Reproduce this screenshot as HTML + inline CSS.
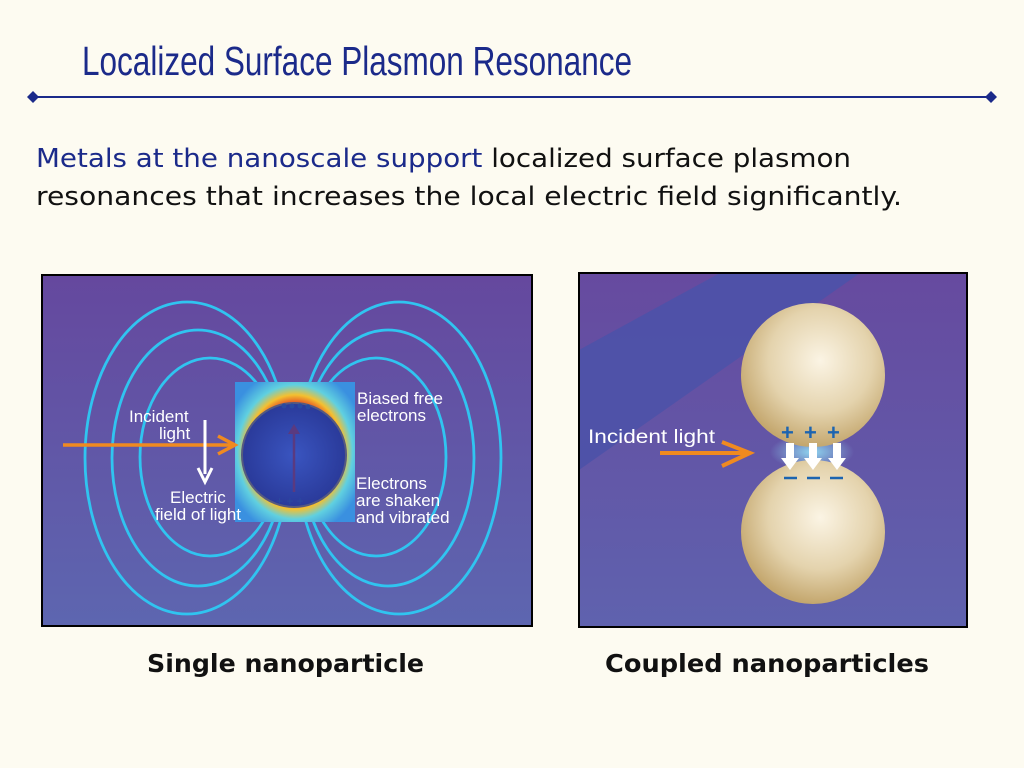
<!DOCTYPE html>
<html><head><meta charset="utf-8"><style>
html,body{margin:0;padding:0;background:#fdfbf1;}
svg{display:block}
</style></head><body>
<svg width="1024" height="768" viewBox="0 0 1024 768" xmlns="http://www.w3.org/2000/svg">
<defs>
<linearGradient id="bg1" x1="0" y1="0" x2="0" y2="1"><stop offset="0" stop-color="#65489e"/><stop offset="1" stop-color="#5d66b0"/></linearGradient>
<linearGradient id="bg2" x1="0" y1="0" x2="0" y2="1"><stop offset="0" stop-color="#664a9f"/><stop offset="1" stop-color="#5f62ae"/></linearGradient>
<radialGradient id="heat" cx="0.5" cy="0.5" r="0.6">
<stop offset="0.55" stop-color="#e03020"/><stop offset="0.68" stop-color="#f4c030"/><stop offset="0.8" stop-color="#60d0e0"/><stop offset="1" stop-color="#3a90e0"/></radialGradient>
<radialGradient id="ball" cx="0.55" cy="0.4" r="0.6"><stop offset="0" stop-color="#fbf4e4"/><stop offset="0.6" stop-color="#e4d3ad"/><stop offset="1" stop-color="#c4a76e"/></radialGradient>
<radialGradient id="blue" cx="0.5" cy="0.5" r="0.5"><stop offset="0" stop-color="#3a55c0"/><stop offset="1" stop-color="#2a3a9a"/></radialGradient>
<radialGradient id="glow" cx="0.5" cy="0.5" r="0.5"><stop offset="0" stop-color="#8fd6f0"/><stop offset="1" stop-color="#8fd6f0" stop-opacity="0"/></radialGradient>
<clipPath id="c2"><rect x="579" y="273" width="388" height="354"/></clipPath>
</defs>

<text x="82" y="75" font-family="Liberation Sans Narrow, Liberation Sans, sans-serif" font-size="41" fill="#1b2a8a" textLength="550" lengthAdjust="spacingAndGlyphs">Localized  Surface  Plasmon  Resonance</text>
<line x1="33" y1="97" x2="991" y2="97" stroke="#1b2a8a" stroke-width="2"/>
<path d="M33 91 L39 97 L33 103 L27 97Z" fill="#1b2a8a"/>
<path d="M991 91 L997 97 L991 103 L985 97Z" fill="#1b2a8a"/>

<text x="36" y="167" font-family="DejaVu Sans, sans-serif" font-size="26" textLength="815" lengthAdjust="spacingAndGlyphs"><tspan fill="#1b2a8a">Metals at the nanoscale support</tspan><tspan fill="#111"> localized surface plasmon</tspan></text>
<text x="36" y="205" font-family="DejaVu Sans, sans-serif" font-size="26" fill="#111" textLength="866" lengthAdjust="spacingAndGlyphs">resonances that increases the local electric field significantly.</text>

<!-- panel 1 -->
<rect x="42" y="275" width="490" height="351" fill="url(#bg1)" stroke="#000" stroke-width="2"/>
<g fill="none" stroke="#30c4f0" stroke-width="2.8">
<ellipse cx="187" cy="458" rx="102" ry="156"/>
<ellipse cx="198" cy="458" rx="86" ry="128"/>
<ellipse cx="210" cy="457" rx="70" ry="99"/>
<ellipse cx="399" cy="458" rx="102" ry="156"/>
<ellipse cx="388" cy="458" rx="86" ry="128"/>
<ellipse cx="376" cy="457" rx="70" ry="99"/>
</g>
<rect x="235" y="382" width="120" height="140" fill="url(#heat)"/>
<circle cx="294" cy="455" r="52" fill="url(#blue)" stroke="#555a80" stroke-width="2"/>
<line x1="294" y1="492" x2="294" y2="432" stroke="#5a3a80" stroke-width="2.5"/>
<path d="M288 434 L294 424 L300 434Z" fill="#5a3a80"/>
<g fill="#2a4aa0"><circle cx="284" cy="406" r="2.5"/><circle cx="292" cy="406" r="2.5"/><circle cx="300" cy="406" r="2.5"/><circle cx="308" cy="407" r="2.5"/></g>
<text x="276" y="505" font-family="Liberation Sans, sans-serif" font-size="12" fill="#2a4aa0">+ + +</text>
<line x1="63" y1="445" x2="232" y2="445" stroke="#f08a20" stroke-width="3.5"/>
<path d="M218 436 L235 445 L218 454" fill="none" stroke="#f08a20" stroke-width="3.5"/>
<line x1="205" y1="420" x2="205" y2="474" stroke="#fff" stroke-width="3"/>
<path d="M198 468 L205 482 L212 468" fill="none" stroke="#fff" stroke-width="3"/>
<g font-family="Liberation Sans, sans-serif" font-size="17" fill="#fff">
<text x="129" y="422">Incident</text><text x="159" y="439">light</text>
<text x="170" y="503">Electric</text><text x="155" y="520">field of light</text>
<text x="357" y="404">Biased free</text><text x="357" y="421">electrons</text>
<text x="356" y="489">Electrons</text><text x="356" y="506">are shaken</text><text x="356" y="523">and vibrated</text>
</g>

<!-- panel 2 -->
<rect x="579" y="273" width="388" height="354" fill="url(#bg2)"/>
<g clip-path="url(#c2)">
<path d="M579 350 L720 273 L860 273 L579 470Z" fill="#4c52a8" opacity="0.9"/>
</g>
<rect x="579" y="273" width="388" height="354" fill="none" stroke="#000" stroke-width="2"/>
<ellipse cx="812" cy="452" rx="42" ry="18" fill="url(#glow)"/>
<circle cx="813" cy="375" r="72" fill="url(#ball)"/>
<circle cx="813" cy="532" r="72" fill="url(#ball)"/>
<g font-family="Liberation Sans, sans-serif" font-size="22" fill="#1c64b0" font-weight="bold">
<text x="781" y="440">+</text><text x="804" y="440">+</text><text x="827" y="440">+</text>
</g>
<g stroke="#1c64b0" stroke-width="2.5"><line x1="784" y1="478" x2="797" y2="478"/><line x1="807" y1="478" x2="820" y2="478"/><line x1="830" y1="478" x2="843" y2="478"/></g>
<g fill="#fff">
<path d="M786 443h8v15h5l-9 12-9-12h5z"/><path d="M809 443h8v15h5l-9 12-9-12h5z"/><path d="M833 443h8v15h5l-9 12-9-12h5z"/>
</g>
<text x="588" y="443" font-family="Liberation Sans, sans-serif" font-size="19" fill="#fff" textLength="127" lengthAdjust="spacingAndGlyphs">Incident light</text>
<line x1="660" y1="453" x2="748" y2="453" stroke="#f08a20" stroke-width="4"/>
<path d="M722 442 L750 453 L722 466" fill="none" stroke="#f08a20" stroke-width="4"/>

<text x="147" y="672" font-family="DejaVu Sans, sans-serif" font-weight="bold" font-size="25" fill="#111" textLength="277" lengthAdjust="spacingAndGlyphs">Single nanoparticle</text>
<text x="605" y="672" font-family="DejaVu Sans, sans-serif" font-weight="bold" font-size="25" fill="#111" textLength="324" lengthAdjust="spacingAndGlyphs">Coupled nanoparticles</text>
</svg>
</body></html>
